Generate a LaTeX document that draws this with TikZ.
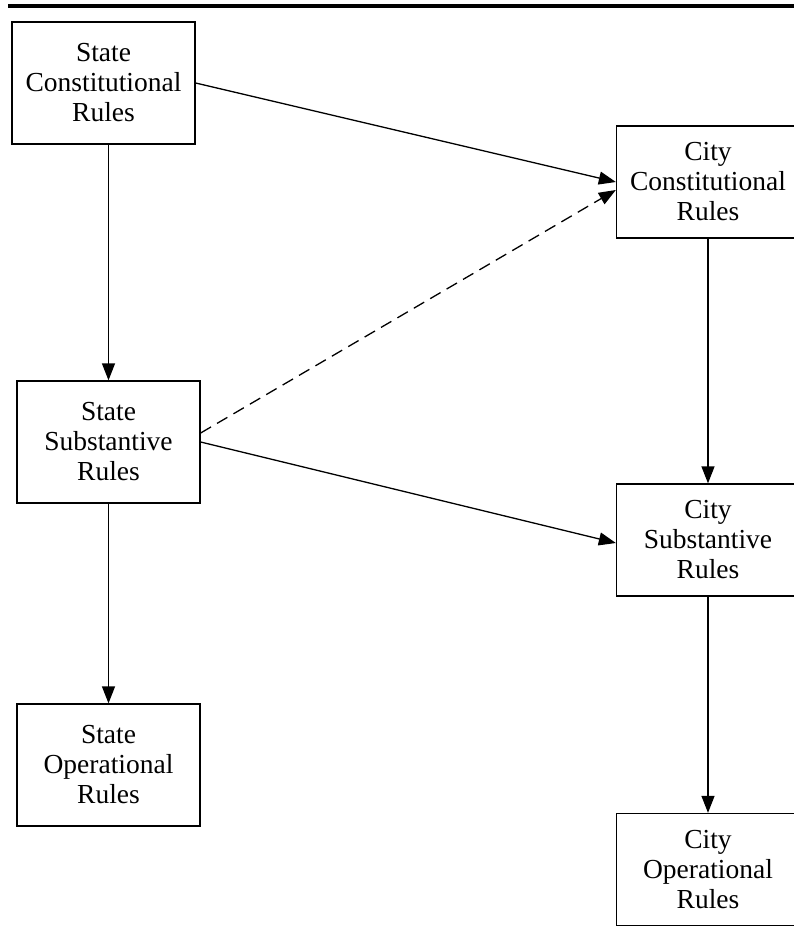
\documentclass[tikz,border=0pt]{standalone}
\usepackage{fontspec}
\setmainfont{Liberation Serif}
\usetikzlibrary{arrows.meta}

\tikzset{
 rulebox/.style={draw, line width=1.3pt, align=center, text width=172pt,
   minimum width=183pt, minimum height=122pt, inner sep=0pt,
   font=\fontsize{27.5}{30}\selectfont},
 citybox/.style={rulebox, minimum height=112pt},
 link/.style={line width=1.3pt, -{Triangle[length=17pt,width=13pt]}}
}

\begin{document}
\begin{tikzpicture}[x=1pt,y=-1pt]
\clip (0,0) rectangle (794,928);
\draw[line width=4pt] (8,6.5)--(794,6.5);
% state side
\node[rulebox] (sc) at (103.5,83) {State\\Constitutional\\Rules};
\node[rulebox] (ss) at (108.5,442) {State\\Substantive\\Rules};
\node[rulebox] (so) at (108.5,765) {State\\Operational\\Rules};
% city side
\node[citybox] (cc) at (708,182) {City\\Constitutional\\Rules};
\node[citybox] (cs) at (708,540) {City\\Substantive\\Rules};
\node[citybox] (co) at (708,869.5) {City\\Operational\\Rules};

\draw[link] (ss.north |- sc.south) -- (ss.north);
\draw[link] (ss) -- (so);
\draw[link] (cc) -- (cs);
\draw[link] (cs) -- (co);
\draw[link] (sc.east) -- (cc.west);
\draw[link, dash pattern=on 12pt off 7pt] ([yshift=9pt]ss.east) -- ([yshift=-8pt]cc.west);
\draw[link] (ss.east) -- ([yshift=-3pt]cs.west);
\end{tikzpicture}
\end{document}
